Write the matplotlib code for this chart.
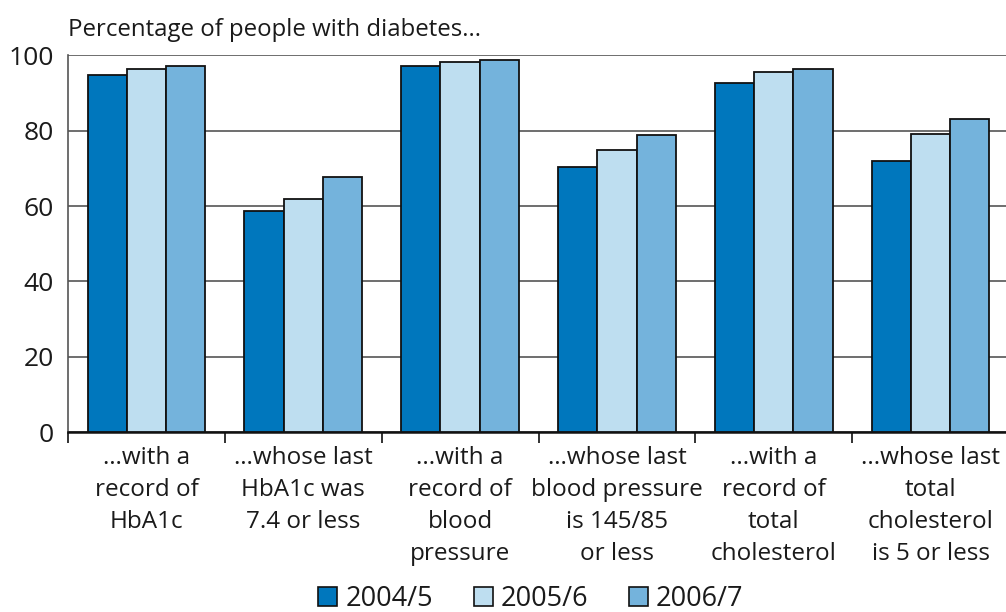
import numpy as np
import matplotlib
matplotlib.use('Agg')
import matplotlib.pyplot as plt
from matplotlib.patches import Patch

plt.rcParams['font.family'] = ['Open Sans', 'DejaVu Sans']

categories = ['\u2026with a\nrecord of\nHbA1c',
              '\u2026whose last\nHbA1c was\n7.4 or less',
              '...with a\nrecord of\nblood\npressure',
              '\u2026whose last\nblood pressure\nis 145/85\nor less',
              '...with a\nrecord of\ntotal\ncholesterol',
              '...whose last\ntotal\ncholesterol\nis 5 or less']
years = ['2004/5', '2005/6', '2006/7']
v_2004 = [94.7, 58.8, 97.3, 70.5, 92.8, 71.9]
v_2005 = [96.5, 62.0, 98.4, 75.0, 95.5, 79.1]
v_2006 = [97.2, 67.6, 98.7, 78.8, 96.4, 83.2]
colors = ['#0077bd', '#bedef0', '#74b3dc']

fig = plt.figure(figsize=(10.06, 6.12), dpi=100)
ax = fig.add_axes([68 / 1006, 180 / 612, 941 / 1006, 376.5 / 612])

x = np.arange(len(categories))
width = 0.25
for i, (vals, col, lab) in enumerate(zip([v_2004, v_2005, v_2006], colors, years)):
    ax.bar(x + (i - 1) * width, vals, width, color=col, edgecolor='#111111',
           linewidth=1.3, label=lab, zorder=3)

ax.set_xlim(-0.5, 5.5)
ax.set_ylim(0, 100)
ax.set_yticks([0, 20, 40, 60, 80, 100])
ax.yaxis.grid(True, color='#555555', linewidth=1.2, zorder=0)
ax.tick_params(axis='y', length=0, pad=10, labelsize=19, labelcolor='#1a1a1a')

ax.set_xticks(x)
ax.set_xticklabels(categories, fontsize=17.5, linespacing=1.45, color='#1a1a1a')
ax.set_xticks(np.arange(-0.5, 6, 1), minor=True)
ax.tick_params(axis='x', which='major', length=0, pad=10)
ax.tick_params(axis='x', which='minor', length=8, width=1.3, color='#222222')

for s in ['top', 'right']:
    ax.spines[s].set_visible(False)
ax.spines['left'].set_color('#555555')
ax.spines['left'].set_linewidth(1.2)
ax.spines['bottom'].set_color('#111111')
ax.spines['bottom'].set_linewidth(1.8)

fig.text(68 / 1006, 1 - 30 / 612, 'Percentage of people with diabetes...',
         fontsize=17.3, ha='left', va='center', color='#1a1a1a')

handles = [Patch(facecolor=c, edgecolor='#111111', linewidth=1.2, label=l)
           for c, l in zip(colors, years)]
fig.legend(handles=handles, loc='center', bbox_to_anchor=(531 / 1006, 1 - 599 / 612),
           ncol=3, frameon=False, fontsize=19.5, handlelength=0.7, handleheight=0.7,
           handletextpad=0.3, columnspacing=1.5, borderaxespad=0, labelcolor='#1a1a1a')

fig.savefig('out.png', dpi=100)
